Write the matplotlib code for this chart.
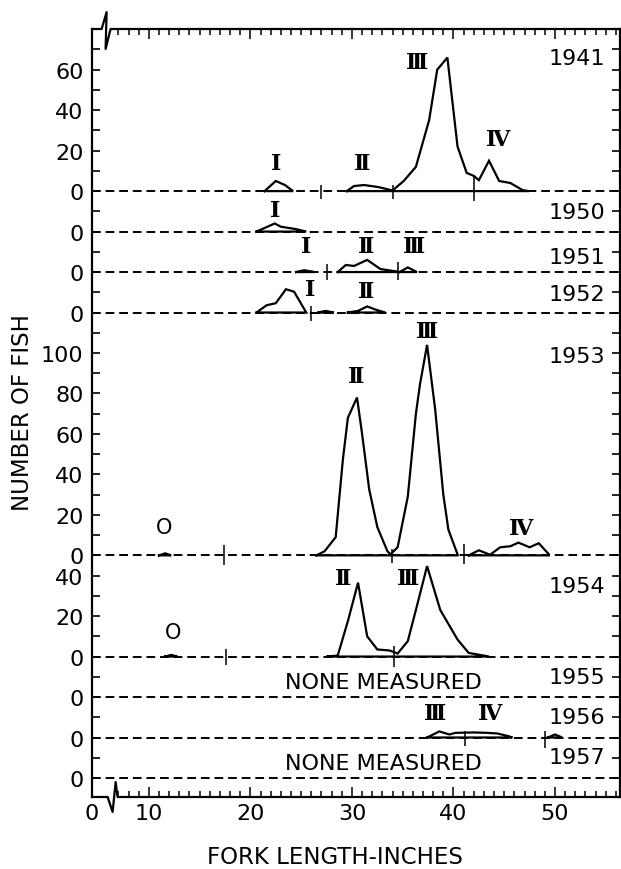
import matplotlib.pyplot as plt
from matplotlib import transforms

# ================= DATA =================
# fork length in inches, number of fish; each year drawn on its own baseline
years = ['1941', '1950', '1951', '1952', '1953', '1954', '1955', '1956', '1957']
offsets = [290, 270, 250, 230, 110, 60, 40, 20, 0]

c1941_x = [[21.4, 22.5, 23.4, 24.2],
           [29.5, 30.2, 31.2, 32.6, 34.0, 35.1, 36.3, 37.6, 38.4, 39.4, 40.4,
            41.3, 42.0, 42.5, 43.5, 44.5, 45.6, 46.8, 47.4]]
c1941_n = [[0, 5, 3, 0],
           [0, 2.5, 3, 2, 0.3, 5, 12, 35, 60, 66, 22, 9, 7.5, 5.4, 15, 5, 4, 0.5, 0]]

c1950_x = [[20.6, 22.4, 23.0, 24.5, 25.5]]
c1950_n = [[0, 4, 2.4, 1.2, 0]]

c1951_x = [[24.5, 25.3, 26.3],
           [28.6, 29.4, 30.2, 31.5, 32.8, 34.5],
           [34.7, 35.5, 36.4]]
c1951_n = [[0, 0.9, 0],
           [0, 3.5, 3, 6, 1.5, 0.2],
           [0, 2.3, 0]]

c1952_x = [[20.6, 21.6, 22.5, 23.5, 24.3, 25.5],
           [26.7, 27.4, 28.2],
           [29.6, 30.6, 31.5, 32.4, 33.3]]
c1952_n = [[0, 3.6, 4.6, 11.5, 10.3, 0],
           [0, 0.8, 0],
           [0, 0.8, 3, 1.3, 0]]

c1953_x = [[11.0, 11.6, 12.2],
           [26.5, 27.3, 28.4, 29.1, 29.6, 30.5, 31.0, 31.7, 32.5, 33.5, 33.8,
            34.5, 35.5, 36.3, 36.7, 37.4, 38.2, 39.0, 39.5, 40.4],
           [41.5, 42.5, 43.6, 44.6, 45.6, 46.4, 47.5, 48.4, 49.4]]
c1953_n = [[0, 1, 0],
           [0, 2, 9, 47, 68, 78, 60, 32.6, 14, 2, 0.5,
            4, 29, 70, 84.5, 104, 72, 30, 12.7, 0.5],
           [0, 2.5, 0.3, 4, 4.5, 6.3, 4, 6, 0.5]]

c1954_x = [[11.6, 12.2, 12.8],
           [27.6, 28.6, 29.6, 30.6, 31.5, 32.5, 33.7, 34.5, 35.5, 36.4, 37.4,
            38.7, 40.4, 41.5, 43.5]]
c1954_n = [[0, 0.8, 0],
           [0, 0.5, 17.5, 36.5, 10, 3.5, 3, 1.5, 7.6, 25, 44.7, 23, 8.4, 1.8, 0]]

c1955_x, c1955_n = [], []

c1956_x = [[37.4, 38.6, 39.6, 40.2, 42.0, 43.3, 44.3, 45.4, 45.8],
           [49.3, 50.0, 50.7]]
c1956_n = [[0, 3, 1.5, 2.3, 2.5, 2.3, 2, 0.7, 0],
           [0, 1.5, 0]]

c1957_x, c1957_n = [], []

curves_x = [c1941_x, c1950_x, c1951_x, c1952_x, c1953_x, c1954_x, c1955_x, c1956_x, c1957_x]
curves_n = [c1941_n, c1950_n, c1951_n, c1952_n, c1953_n, c1954_n, c1955_n, c1956_n, c1957_n]

# age-class separators on the baselines: year index, length, low / high (fish)
sep_year = [0, 0, 0, 2, 2, 3, 4, 4, 4, 5, 5, 7, 7]
sep_x = [27.0, 34.0, 42.0, 27.5, 34.5, 26.0, 17.4, 33.9, 41.0, 17.6, 34.1, 41.1, 49.0]
sep_lo = [-4, -4, -5, -4, -4, -4, -5, -4, -4.5, -4, -5, -4.3, -5]
sep_hi = [3, 3, 8, 4, 5, 3, 5, 3, 5.5, 3.5, 5, 3, 3]

# age-class labels
cls_year = [0, 0, 0, 0, 1, 2, 2, 2, 3, 3, 4, 4, 4, 4, 5, 5, 5, 7, 7]
cls_x = [22.5, 31.0, 36.4, 44.4, 22.4, 25.5, 31.4, 36.1, 25.9, 31.4,
         11.5, 30.4, 37.4, 46.7, 12.4, 29.1, 35.5, 38.2, 43.6]
cls_y = [14, 14, 63.6, 25.7, 10.8, 13, 13, 13, 11.4, 10.6,
         14, 88.6, 110.8, 13.7, 12, 39, 39, 12.3, 12.3]
cls_txt = ['Ⅰ', 'Ⅱ', 'Ⅲ', 'Ⅳ', 'Ⅰ', 'Ⅰ', 'Ⅱ', 'Ⅲ', 'Ⅰ', 'Ⅱ',
           'O', 'Ⅱ', 'Ⅲ', 'Ⅳ', 'O', 'Ⅱ', 'Ⅲ', 'Ⅲ', 'Ⅳ']

# year labels (height above own baseline)
year_lab_y = [66, 9.6, 7.4, 9, 98.4, 35, 10, 10, 10.4]
none_years = [6, 8]

# left axis labels
ylab_pos = [350, 330, 310, 290, 270, 250, 230, 210, 190, 170, 150, 130, 110,
            100, 80, 60, 40, 20, 0]
ylab_txt = ['60', '40', '20', '0', '0', '0', '0', '100', '80', '60', '40', '20', '0',
            '40', '20', '0', '0', '0', '0']

x_lo, x_hi = 4.4, 56.4
xtick_pos = [x_lo, 10, 20, 30, 40, 50]
xtick_txt = ['0', '10', '20', '30', '40', '50']
# ===============================================================

plt.rcParams['font.family'] = ['DejaVu Sans']

fig = plt.figure(figsize=(6.21, 8.70), dpi=100)
ax = fig.add_axes([92 / 621, 1 - 798 / 870, 528 / 621, 768 / 870])
ax.set_xlim(x_lo, x_hi)
ax.set_ylim(-9.4, 370.1)

# dashed baselines
for off in offsets:
    ax.axhline(off, color='k', lw=1.4, ls=(0, (4.5, 2.5)), zorder=1)

# frequency polygons, closed along the baseline
for off, xs, ns in zip(offsets, curves_x, curves_n):
    for x, n in zip(xs, ns):
        px = list(x) + [x[-1], x[0]]
        py = [off + v for v in n] + [off, off]
        ax.plot(px, py, color='k', lw=1.6, solid_joinstyle='miter', zorder=3)

for i, x, lo, hi in zip(sep_year, sep_x, sep_lo, sep_hi):
    ax.vlines(x, offsets[i] + lo, offsets[i] + hi, color='k', lw=1.1, zorder=3)

for i, x, y, t in zip(cls_year, cls_x, cls_y, cls_txt):
    if t == 'O':
        ax.text(x, offsets[i] + y, t, fontsize=15, ha='center', va='center')
    else:
        ax.text(x, offsets[i] + y, t, family='DejaVu Serif', fontsize=16,
                fontweight='bold', ha='center', va='center')

for i, yr in enumerate(years):
    ax.text(54.95, offsets[i] + year_lab_y[i], yr, fontsize=16, ha='right', va='center')

for i in none_years:
    ax.text(33.06, offsets[i] + 7.6, 'NONE MEASURED', fontsize=16, ha='center', va='center')

# axes, ticks
ax.set_yticks(range(0, 361, 10))
ax.set_yticklabels([ylab_txt[ylab_pos.index(v)] if v in ylab_pos else '' for v in range(0, 361, 10)])
ax.set_xticks(xtick_pos)
ax.set_xticklabels(xtick_txt)
ax.set_xticks(range(7, 57), minor=True)
ax.tick_params(axis='y', direction='in', left=True, right=True, length=6, width=1.2,
               labelsize=16, pad=6)
ax.tick_params(axis='x', which='both', direction='in', top=True, bottom=True, width=1.1,
               labelsize=16, pad=4)
ax.tick_params(axis='x', which='major', length=7)
ax.tick_params(axis='x', which='minor', length=4)
for s in ['left', 'right']:
    ax.spines[s].set_linewidth(1.6)
ax.spines['top'].set_visible(False)
ax.spines['bottom'].set_visible(False)

# top and bottom frame with the axis break
tr = transforms.blended_transform_factory(ax.transData, ax.transAxes)
ax.plot([x_lo, 5.35, 5.84, 5.74, 6.23, x_hi], [1, 1, 1.022, 0.974, 1, 1],
        color='k', lw=1.6, transform=tr, clip_on=False)
ax.plot([x_lo, 5.94, 6.43, 6.73, 6.92, x_hi], [0, 0, -0.0195, 0.0195, 0, 0],
        color='k', lw=1.6, transform=tr, clip_on=False)

fig.text(335 / 621, 1 - 858 / 870, 'FORK LENGTH-INCHES', fontsize=16.5, ha='center', va='center')
fig.text(23 / 621, 1 - 413 / 870, 'NUMBER OF FISH', fontsize=16.5, rotation=90,
         ha='center', va='center')

fig.savefig('out.png', dpi=100)
